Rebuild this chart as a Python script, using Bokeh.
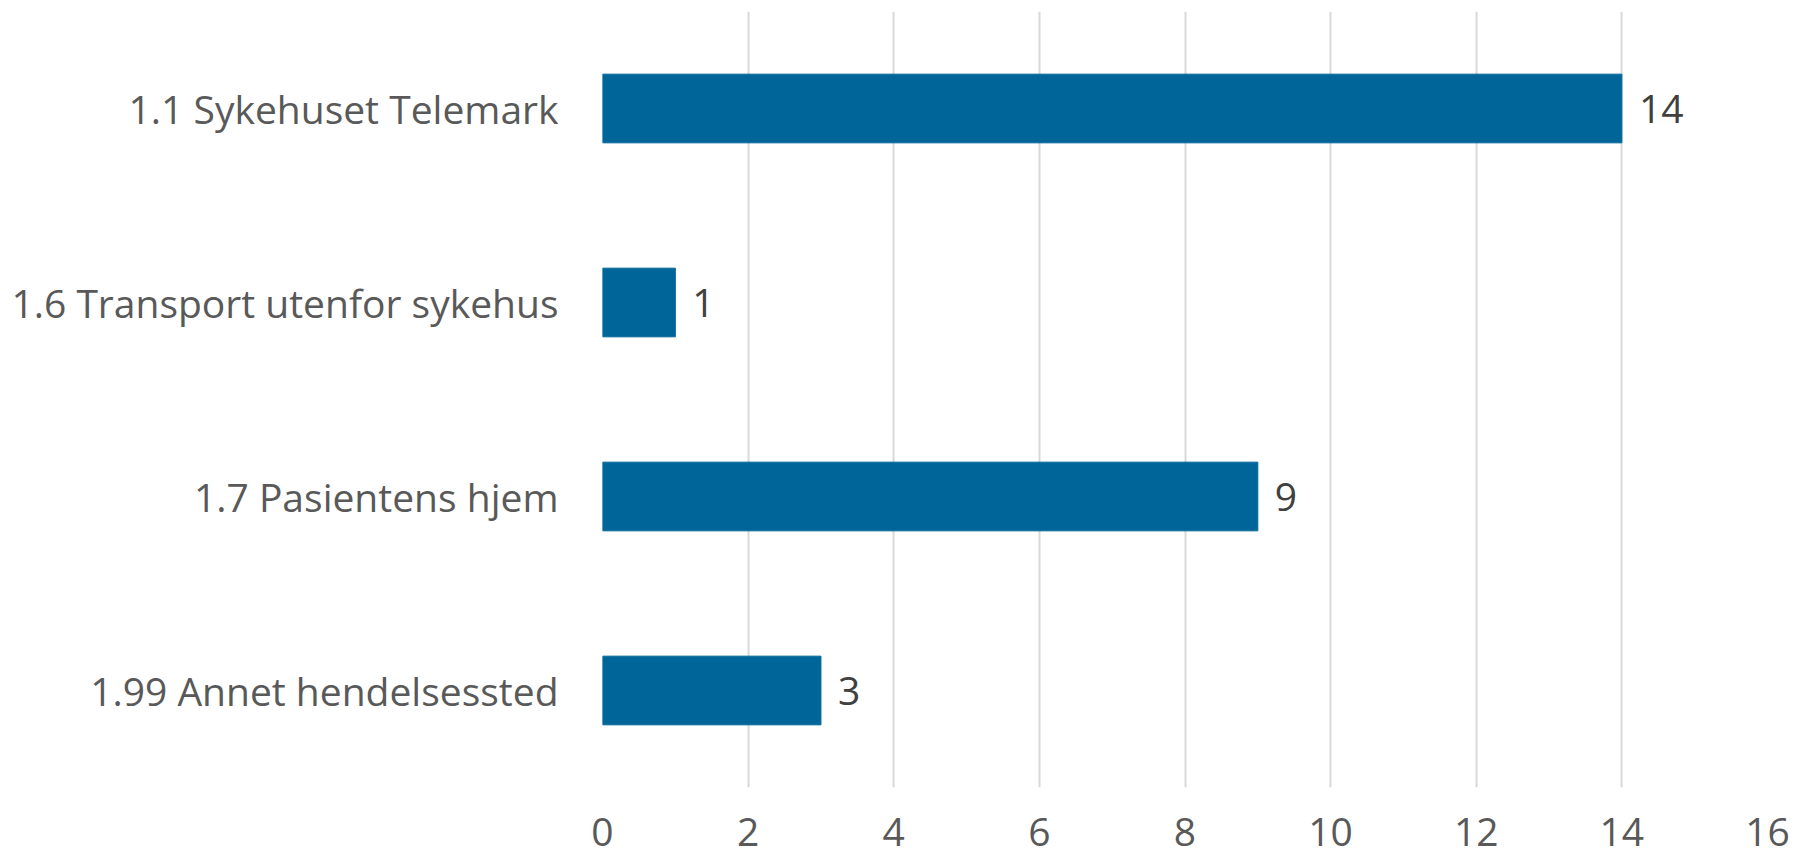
from bokeh.plotting import figure
from bokeh.models import ColumnDataSource, FactorRange, Range1d, FixedTicker
from bokeh.core.properties import value
from bokeh.embed import file_html
from bokeh.resources import INLINE

categories = ["1.1 Sykehuset Telemark", "1.6 Transport utenfor sykehus",
              "1.7 Pasientens hjem", "1.99 Annet hendelsessted"]
counts = [14, 1, 9, 3]
x_ticks = [0, 2, 4, 6, 8, 10, 12, 14, 16]

FONT = "Open Sans"
BAR = "#006699"

src = ColumnDataSource(dict(cat=categories, val=counts,
                            lbl=[str(v) for v in counts]))

p = figure(width=1794, height=859, output_backend="svg", toolbar_location=None,
           y_range=FactorRange(*categories[::-1]), x_range=Range1d(0, 16),
           min_border_left=602, min_border_right=27, min_border_top=11,
           min_border_bottom=72)
p.outline_line_color = None
p.background_fill_color = "white"
p.border_fill_color = "white"

p.hbar(y="cat", right="val", left=0, height=0.354, source=src,
       fill_color=BAR, line_color=BAR, line_width=1)

p.text(x="val", y="cat", text="lbl", source=src, x_offset=17,
       text_align="left", text_baseline="middle",
       text_font=value(FONT), text_font_size="39px", text_color="#404040")

p.xaxis.ticker = FixedTicker(ticks=x_ticks)
p.xgrid.ticker = FixedTicker(ticks=x_ticks)
p.xgrid.grid_line_color = "#d9d9d9"
p.xgrid.grid_line_width = 2
p.ygrid.grid_line_color = None

for ax in (p.xaxis[0], p.yaxis[0]):
    ax.axis_line_color = None
    ax.major_tick_line_color = None
    ax.minor_tick_line_color = None
    ax.major_tick_out = 0
    ax.major_tick_in = 0
    ax.major_label_text_font = FONT
    ax.major_label_text_font_size = "39px"
    ax.major_label_text_color = "#595959"

p.xaxis.major_label_standoff = 30
p.yaxis.major_label_standoff = 44

open("out.html", "w").write(file_html(p, INLINE))
